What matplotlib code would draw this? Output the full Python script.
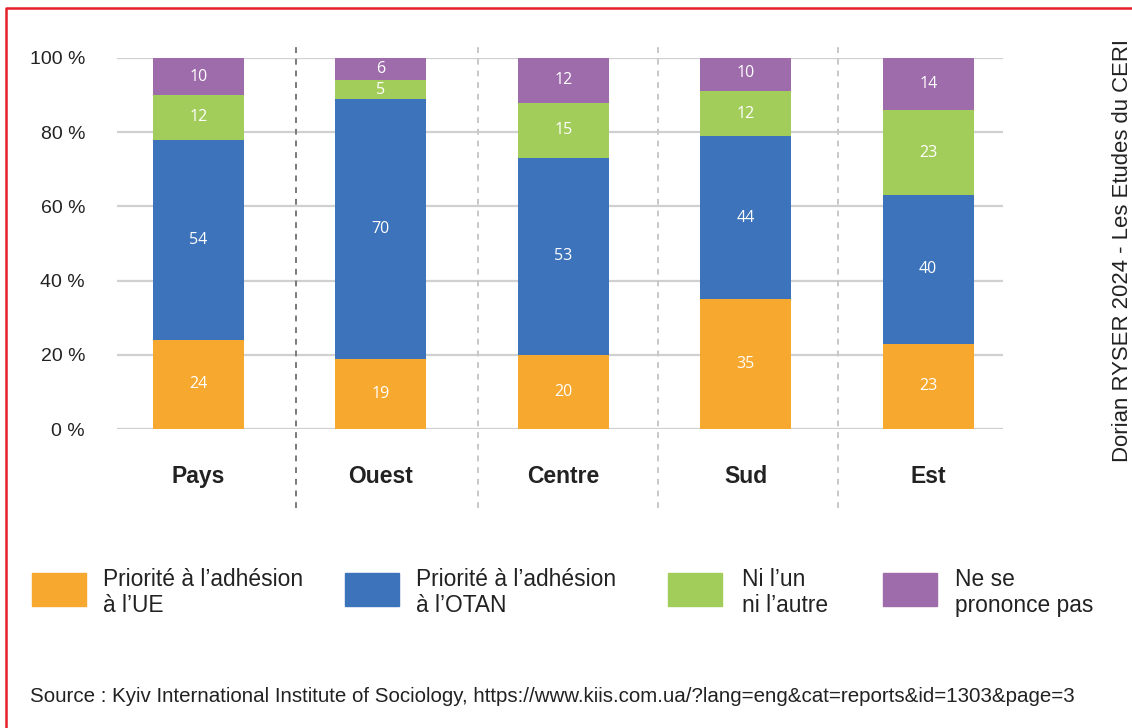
import numpy as np
import matplotlib.pyplot as plt
from matplotlib.patches import Rectangle
from matplotlib.lines import Line2D

plt.rcParams['font.family'] = ['Liberation Sans', 'DejaVu Sans']

# Data
regions = ['Pays', 'Ouest', 'Centre', 'Sud', 'Est']
ue = [24, 19, 20, 35, 23]
otan = [54, 70, 53, 44, 40]
ni = [12, 5, 15, 12, 23]
nsp = [10, 6, 12, 10, 14]
series_labels = ['Priorité à l\u2019adhésion\nà l\u2019UE',
                 'Priorité à l\u2019adhésion\nà l\u2019OTAN',
                 'Ni l\u2019un\nni l\u2019autre',
                 'Ne se\nprononce pas']
colors = ['#F7A82E', '#3D73BA', '#A3CD5B', '#9E6BAB']

fig = plt.figure(figsize=(11.32, 7.28), dpi=100)
ax = fig.add_axes([117 / 1132, 1 - 429 / 728, (1003 - 117) / 1132, (429 - 58) / 728])

x = np.arange(len(regions))
bottom = np.zeros(len(regions))
for vals, col in zip([ue, otan, ni, nsp], colors):
    vals = np.array(vals)
    ax.bar(x, vals, bottom=bottom, width=0.5, color=col, zorder=2)
    for xi, b, v in zip(x, bottom, vals):
        ax.text(xi, b + v / 2, str(v), ha='center', va='center', color='white',
                fontsize=11.5, family=['Open Sans', 'DejaVu Sans'], zorder=3)
    bottom += vals

ax.set_xlim(-0.445, 4.41)
ax.set_ylim(0, 100)
ax.set_yticks(range(0, 101, 20))
ax.set_yticklabels([f'{v} %' for v in range(0, 101, 20)], fontsize=14, color='#222222')
ax.yaxis.grid(True, color='#d0d0d0', linewidth=1.6, zorder=0)
ax.set_axisbelow(True)
ax.tick_params(axis='y', length=0, pad=23)
ax.set_xticks([])
for s in ax.spines.values():
    s.set_visible(False)

# Category labels
for xi, name in zip(x, regions):
    ax.text(xi, -12.7, name, ha='center', va='center', fontsize=16.5,
            fontweight='bold', color='#222222')

# Dashed separators
seps = [0.537, 1.534, 2.52, 3.507]
for i, sx in enumerate(seps):
    ax.axvline(sx, ymin=-0.213, ymax=1.04, clip_on=False,
               color='#7a7a7a' if i == 0 else '#c8c8c8',
               linestyle=(0, (3, 3)), linewidth=1.4)

# Legend
patch_x = [32, 345, 668, 883]
text_x = [103, 416, 742, 955]
for px, tx, lab, col in zip(patch_x, text_x, series_labels, colors):
    fig.patches.append(Rectangle((px / 1132, 1 - 606 / 728), 54 / 1132, 33 / 728,
                                 transform=fig.transFigure, color=col))
    fig.text(tx / 1132, 1 - 568 / 728, lab, ha='left', va='top', fontsize=16.4,
             color='#222222', linespacing=1.14)

fig.text(30 / 1132, 1 - 697 / 728,
         'Source : Kyiv International Institute of Sociology, '
         'https://www.kiis.com.ua/?lang=eng&cat=reports&id=1303&page=3',
         ha='left', va='center', fontsize=14.8, color='#222222')

fig.text(1123 / 1132, 1 - 251 / 728, 'Dorian RYSER 2024 - Les Etudes du CERI',
         rotation=90, ha='center', va='center', fontsize=15.9, color='#222222')

# Red frame (left and top edges)
fig.add_artist(Line2D([6 / 1132, 6 / 1132, 1.0], [0.0, 1 - 8 / 728, 1 - 8 / 728],
                      transform=fig.transFigure, color='#e5202a', linewidth=1.8))

fig.savefig('out.png', dpi=100)
